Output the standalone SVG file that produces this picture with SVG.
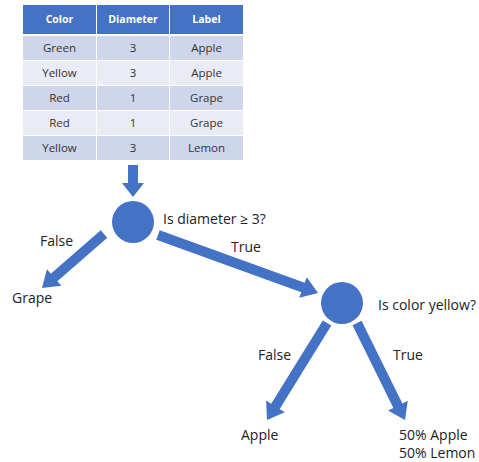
<svg xmlns="http://www.w3.org/2000/svg" width="479" height="462" viewBox="0 0 479 462">
<style>
.hd{fill:#4472C4}
.r1{fill:#CFD5EA}
.r2{fill:#E9EBF5}
.ht{font-family:"Open Sans","Liberation Sans",Arial,sans-serif;font-size:10.5px;font-weight:bold;fill:#fff;text-anchor:middle}
.ct{font-family:"Open Sans","Liberation Sans",Arial,sans-serif;font-size:11.5px;fill:#333;text-anchor:middle}
.lb{font-family:"Open Sans","Liberation Sans",Arial,sans-serif;font-size:14px;fill:#222}
.ar{fill:#4472C4}
.nd{fill:#4472C4}
</style>
<rect width="479" height="462" fill="#fff"/>
<g id="table">
<rect class="hd" x="23" y="5" width="73" height="29"/>
<rect class="hd" x="97" y="5" width="72" height="29"/>
<rect class="hd" x="170" y="5" width="73" height="29"/>
<text class="ht" x="59.5" y="23">Color</text>
<text class="ht" x="133" y="23">Diameter</text>
<text class="ht" x="206.5" y="23">Label</text>
<rect class="r1" x="23" y="36" width="73" height="24"/>
<rect class="r1" x="97" y="36" width="72" height="24"/>
<rect class="r1" x="170" y="36" width="73" height="24"/>
<rect class="r2" x="23" y="61" width="73" height="24"/>
<rect class="r2" x="97" y="61" width="72" height="24"/>
<rect class="r2" x="170" y="61" width="73" height="24"/>
<rect class="r1" x="23" y="86" width="73" height="24"/>
<rect class="r1" x="97" y="86" width="72" height="24"/>
<rect class="r1" x="170" y="86" width="73" height="24"/>
<rect class="r2" x="23" y="111" width="73" height="24"/>
<rect class="r2" x="97" y="111" width="72" height="24"/>
<rect class="r2" x="170" y="111" width="73" height="24"/>
<rect class="r1" x="23" y="136" width="73" height="24"/>
<rect class="r1" x="97" y="136" width="72" height="24"/>
<rect class="r1" x="170" y="136" width="73" height="24"/>
<text class="ct" x="59.5" y="52">Green</text><text class="ct" x="133" y="52">3</text><text class="ct" x="206.5" y="52">Apple</text>
<text class="ct" x="59.5" y="77">Yellow</text><text class="ct" x="133" y="77">3</text><text class="ct" x="206.5" y="77">Apple</text>
<text class="ct" x="59.5" y="102">Red</text><text class="ct" x="133" y="102">1</text><text class="ct" x="206.5" y="102">Grape</text>
<text class="ct" x="59.5" y="127">Red</text><text class="ct" x="133" y="127">1</text><text class="ct" x="206.5" y="127">Grape</text>
<text class="ct" x="59.5" y="152">Yellow</text><text class="ct" x="133" y="152">3</text><text class="ct" x="206.5" y="152">Lemon</text>
</g>
<g id="connectors">
<polygon class="ar" points="128,165 138,165 138,183 144,183 133,197 122,183 128,183"/>
<polygon class="ar" points="100.7,230.2 107.3,237.8 57.4,281.3 61.3,285.8 42,288 46.9,269.2 50.8,273.7"/>
<polygon class="ar" points="159.7,230.3 304.7,282.8 306.8,277.2 318,293 299.2,297.8 301.3,292.2 156.3,239.7"/>
<polygon class="ar" points="322.8,320.4 331.3,325.6 279.7,409 284.8,412.2 267,420 266.1,400.6 271.2,403.8"/>
<polygon class="ar" points="361.5,320.8 402.4,403.5 407.8,400.8 405,420 388,410.6 393.4,407.9 352.5,325.2"/>
<text class="lb" x="40" y="246">False</text>
<text class="lb" x="231" y="252">True</text>
<text class="lb" x="258" y="360">False</text>
<text class="lb" x="393" y="360">True</text>
</g>
<g id="node-diameter">
<circle class="nd" cx="133" cy="222" r="21"/>
<text class="lb" x="163" y="224">Is diameter ≥ 3?</text>
</g>
<g id="node-color">
<circle class="nd" cx="342" cy="303" r="21"/>
<text class="lb" x="378" y="310">Is color yellow?</text>
</g>
<g id="leaf-grape">
<text class="lb" x="12" y="303">Grape</text>
</g>
<g id="leaf-apple">
<text class="lb" x="241" y="440">Apple</text>
</g>
<g id="leaf-mixed">
<text class="lb" x="399" y="440">50% Apple</text>
<text class="lb" x="399" y="458">50% Lemon</text>
</g>
</svg>
